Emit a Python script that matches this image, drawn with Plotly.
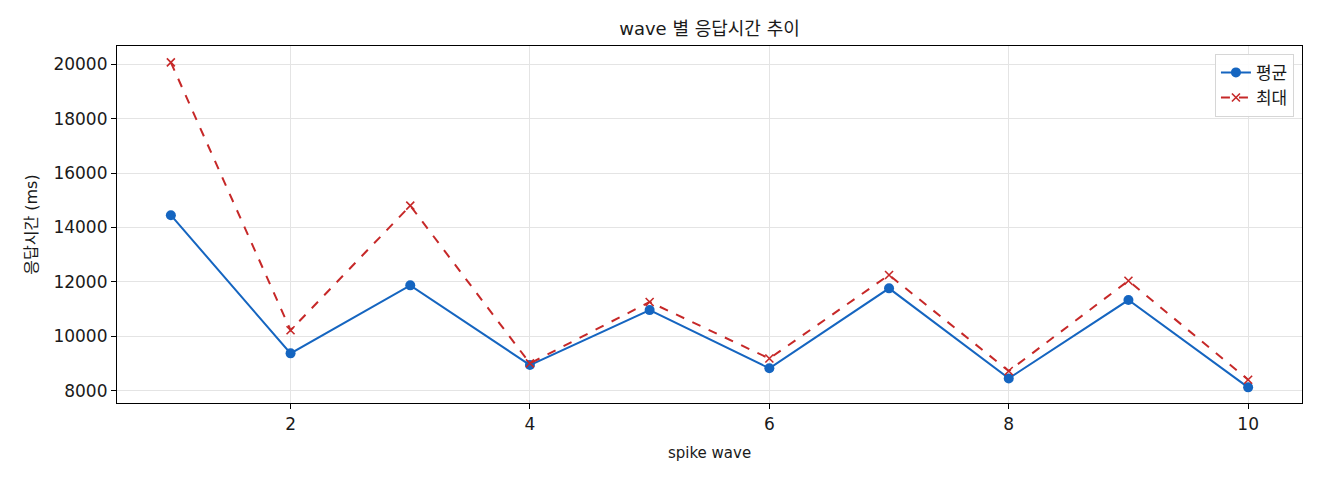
import plotly.graph_objects as go

waves = [1, 2, 3, 4, 5, 6, 7, 8, 9, 10]
avg_ms = [14450, 9370, 11870, 8940, 10960, 8820, 11760, 8450, 11330, 8120]
max_ms = [20070, 10220, 14800, 9000, 11260, 9180, 12250, 8720, 12040, 8400]
x_ticks = [2, 4, 6, 8, 10]
y_ticks = [8000, 10000, 12000, 14000, 16000, 18000, 20000]
y_tick_text = [str(v) for v in y_ticks]

FONT = "DejaVu Sans, Noto Sans CJK KR"
TXT = "#1a1a1a"

W, H = 1312, 472  # page body has 8px margin

fig = go.Figure()
fig.add_trace(go.Scatter(
    x=waves, y=avg_ms, name="평균", mode="lines+markers",
    line=dict(color="#1565C0", width=2),
    marker=dict(symbol="circle", size=10, color="#1565C0"),
))
fig.add_trace(go.Scatter(
    x=waves, y=max_ms, name="최대", mode="lines+markers",
    line=dict(color="#C62828", width=2, dash="dash"),
    marker=dict(symbol="x-thin", size=8, line=dict(color="#C62828", width=1.6), color="#C62828"),
))

axis_common = dict(
    showline=True, linecolor="black", linewidth=1.2, mirror=True,
    ticks="outside", ticklen=5, tickcolor="black", tickwidth=1,
    showgrid=True, gridcolor="#e4e4e4", gridwidth=1, zeroline=False,
    tickfont=dict(family=FONT, size=17, color=TXT),
)

fig.update_layout(
    width=W, height=H,
    margin=dict(l=109, r=18, t=38, b=77),
    paper_bgcolor="white", plot_bgcolor="white",
    font=dict(family=FONT, color=TXT),
    title=dict(text="wave 별 응답시간 추이", x=701.5 / W, xanchor="center",
               y=1 - 21 / H, yanchor="middle", font=dict(family=FONT, size=18, color=TXT)),
    xaxis=dict(range=[0.55, 10.45], tickvals=x_ticks,
               title=dict(text="spike wave", font=dict(family=FONT, size=15), standoff=14),
               **axis_common),
    yaxis=dict(range=[7545, 20670], tickvals=y_ticks, ticktext=y_tick_text,
               title=dict(text="응답시간 (ms)", font=dict(family=FONT, size=16), standoff=11),
               **axis_common),
    legend=dict(x=0.9932, y=0.978, xanchor="right", yanchor="top",
                bgcolor="rgba(255,255,255,0.9)", bordercolor="#d6d6d6", borderwidth=1,
                font=dict(family=FONT, size=17, color=TXT)),
    showlegend=True,
)

fig.write_html("out.html")
